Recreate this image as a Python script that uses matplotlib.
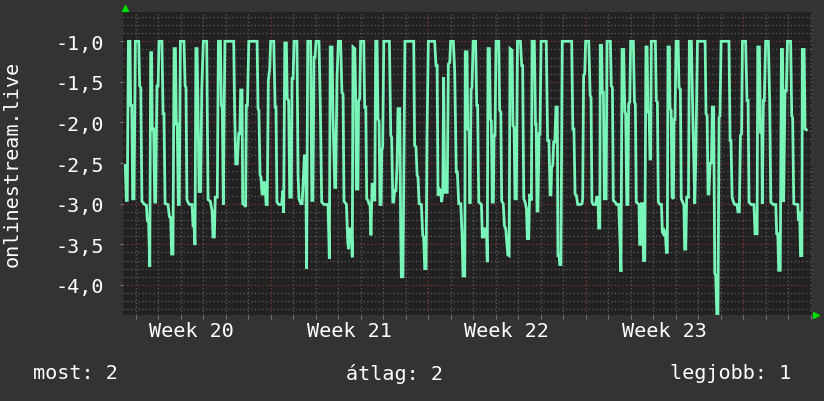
import matplotlib
matplotlib.use("Agg")
import matplotlib.pyplot as plt
import numpy as np
from matplotlib.ticker import FixedLocator, MultipleLocator, FuncFormatter

# ---------------- data (time in days from left edge, value) ----------------
seg_a = [(0.10,-2.53),(0.15,-2.96),(0.19,-2.96),(0.24,-1.0),(0.31,-1.0),(0.34,-1.79),(0.39,-1.79),(0.43,-2.94),(0.49,-2.94),(0.55,-1.0),(0.70,-1.0),(0.74,-1.55),(0.79,-1.57),(0.84,-2.97),(0.96,-3.01),(1.04,-3.02),(1.08,-3.21),(1.14,-3.23),(1.19,-3.78),(1.23,-1.14),(1.27,-1.14),(1.30,-2.08),(1.36,-2.08),(1.41,-2.98),(1.45,-2.98),(1.51,-1.55),(1.56,-1.55),(1.60,-1.0),(1.73,-1.0),(1.78,-1.89),(1.82,-1.89),(1.87,-3.0),(2.00,-3.01),(2.06,-3.16),(2.12,-3.17),(2.16,-3.62),(2.22,-3.62),(2.27,-1.09),(2.33,-1.09),(2.37,-2.02),(2.41,-2.02),(2.46,-3.01),(2.50,-3.01),(2.55,-1.0),(2.71,-1.0),(2.76,-1.55),(2.80,-1.57),(2.84,-2.95),(2.90,-2.99),(2.96,-3.01),(3.07,-3.01),(3.11,-3.27),(3.16,-3.29),(3.20,-3.51),(3.24,-1.09),(3.29,-1.09),(3.33,-1.77),(3.38,-2.85),(3.45,-2.85),(3.50,-1.59),(3.57,-1.0),(3.72,-1.0),(3.78,-2.95),(3.88,-2.97),(3.96,-3.09),(4.00,-3.41),(4.06,-3.41),(4.10,-2.92),(4.19,-2.92),(4.24,-1.0),(4.33,-1.0),(4.37,-1.79),(4.41,-1.79),(4.46,-3.01),(4.49,-2.01),(4.53,-1.0),(4.92,-1.0)]
seg_b = [(4.96,-1.83),(5.01,-2.51),(5.08,-2.51),(5.14,-2.14),(5.19,-2.14),(5.23,-1.60),(5.29,-1.60),(5.32,-3.0),(5.41,-3.02),(5.45,-3.04),(5.48,-1.79),(5.53,-1.79),(5.59,-1.0),(5.96,-1.0),(6.00,-1.83),(6.04,-1.85),(6.09,-2.65),(6.13,-2.67),(6.18,-2.88),(6.22,-2.88),(6.27,-2.74),(6.31,-2.74),(6.36,-3.01),(6.41,-3.01),(6.46,-1.48),(6.52,-1.34),(6.56,-1.0),(6.70,-1.0),(6.76,-1.81),(6.80,-1.81),(6.84,-2.98),(6.92,-3.01),(7.05,-3.01),(7.10,-2.84),(7.14,-3.11),(7.19,-1.02),(7.26,-1.02),(7.30,-1.71),(7.36,-1.73),(7.41,-2.92),(7.48,-2.92),(7.51,-1.46),(7.56,-1.46),(7.60,-1.0),(7.73,-1.0),(7.78,-2.65),(7.82,-2.94),(7.90,-3.0),(7.96,-3.0),(8.00,-2.78),(8.06,-2.41),(8.12,-2.41),(8.16,-3.8),(8.21,-1.0),(8.34,-1.0),(8.39,-2.96),(8.44,-2.96),(8.49,-1.2),(8.53,-1.2),(8.58,-1.0),(8.71,-1.0),(8.77,-1.81),(8.83,-2.98),(8.93,-3.01),(9.11,-3.01),(9.17,-3.68),(9.21,-1.07),(9.29,-1.07),(9.33,-1.89),(9.41,-2.80),(9.45,-2.80),(9.51,-1.46),(9.57,-1.0),(9.67,-1.0),(9.73,-1.63),(9.78,-1.65),(9.82,-2.97),(9.93,-3.01),(9.99,-3.48),(10.03,-3.56),(10.07,-3.31),(10.15,-3.31),(10.19,-3.66)]
seg_c = [(10.22,-1.07),(10.30,-1.09),(10.34,-1.67),(10.37,-2.82),(10.44,-2.82),(10.47,-1.73),(10.52,-1.71),(10.56,-1.0),(10.70,-1.0),(10.74,-1.81),(10.79,-1.81),(10.83,-2.94),(10.89,-2.96),(10.93,-3.0),(10.98,-3.02),(11.02,-3.39),(11.07,-2.76),(11.14,-2.76),(11.19,-2.97),(11.23,-1.0),(11.29,-1.0),(11.33,-1.96),(11.38,-1.98),(11.42,-3.01),(11.47,-3.01),(11.50,-2.33),(11.54,-2.31),(11.59,-1.0),(11.84,-1.0),(11.90,-2.16),(11.94,-2.18),(11.99,-2.98),(12.03,-2.98),(12.07,-2.84),(12.13,-2.84),(12.18,-2.51),(12.22,-1.83),(12.30,-1.83),(12.34,-3.31),(12.37,-3.9),(12.44,-3.9),(12.49,-2.22),(12.53,-1.0),(12.92,-1.0),(12.96,-2.28),(13.02,-2.30),(13.07,-2.65),(13.11,-2.67),(13.16,-3.0),(13.26,-3.01),(13.32,-3.39),(13.36,-3.41),(13.41,-3.80),(13.47,-3.80),(13.51,-2.16),(13.57,-1.0),(13.85,-1.0),(13.91,-1.30),(13.96,-1.30),(14.00,-2.90),(14.06,-2.82),(14.12,-2.84),(14.16,-2.98),(14.21,-2.86),(14.25,-1.44),(14.30,-2.86),(14.41,-2.86),(14.46,-1.28),(14.52,-1.26),(14.56,-1.0),(14.68,-1.0),(14.74,-1.36),(14.81,-2.61),(14.86,-2.61),(14.92,-3.0),(15.01,-3.0),(15.07,-3.39),(15.11,-3.89),(15.19,-3.89)]
seg_d = [(15.21,-1.13),(15.29,-1.13),(15.32,-2.08),(15.38,-2.10),(15.42,-3.0),(15.47,-1.59),(15.51,-1.57),(15.56,-1.0),(15.67,-1.0),(15.72,-1.79),(15.76,-1.79),(15.81,-2.98),(15.93,-3.01),(15.97,-3.41),(16.03,-3.41),(16.07,-3.31),(16.15,-3.31),(16.19,-3.72),(16.22,-1.09),(16.28,-1.09),(16.33,-1.96),(16.37,-1.98),(16.41,-2.98),(16.46,-2.98),(16.49,-2.16),(16.53,-2.16),(16.58,-1.0),(16.70,-1.0),(16.74,-1.85),(16.79,-1.87),(16.83,-2.97),(16.90,-3.0),(16.95,-3.27),(17.01,-3.31),(17.10,-3.63),(17.16,-3.64),(17.20,-1.09),(17.29,-1.11),(17.33,-2.04),(17.38,-2.06),(17.42,-2.94),(17.48,-2.94),(17.53,-1.0),(17.66,-1.0),(17.72,-1.30),(17.76,-1.30),(17.81,-2.94),(17.87,-2.98),(17.93,-3.06),(17.97,-3.43),(18.03,-3.43),(18.07,-2.88),(18.15,-2.96),(18.18,-1.0),(18.28,-1.0),(18.33,-2.02),(18.36,-2.02),(18.40,-3.09),(18.44,-3.09),(18.49,-2.14),(18.53,-2.14),(18.58,-1.0),(18.81,-1.0),(18.87,-2.22),(18.93,-2.22),(18.98,-2.89),(19.02,-2.89),(19.05,-2.55),(19.10,-2.53),(19.14,-2.24),(19.19,-2.24),(19.24,-1.81),(19.30,-1.81),(19.33,-3.64),(19.38,-3.64),(19.41,-3.75),(19.46,-3.75),(19.52,-1.0),(19.94,-1.0),(19.99,-2.08),(20.04,-2.08),(20.09,-2.88),(20.15,-2.90),(20.21,-3.01),(20.33,-3.01)]
seg_e = [(20.40,-3.0),(20.43,-2.94),(20.47,-1.42),(20.52,-1.40),(20.56,-1.0),(20.70,-1.0),(20.76,-1.67),(20.80,-1.69),(20.84,-2.98),(20.90,-3.01),(21.01,-3.01),(21.05,-2.92),(21.11,-2.92),(21.14,-3.30),(21.19,-3.30),(21.21,-1.05),(21.27,-1.05),(21.30,-1.63),(21.35,-1.63),(21.39,-2.94),(21.47,-2.94),(21.51,-1.0),(21.66,-1.0),(21.70,-1.55),(21.75,-1.57),(21.79,-2.96),(21.87,-2.98),(21.93,-3.01),(22.03,-3.01),(22.09,-3.48),(22.13,-3.84),(22.18,-1.1),(22.25,-1.1),(22.30,-1.87),(22.34,-1.89),(22.39,-3.01),(22.44,-3.01),(22.47,-1.77),(22.52,-1.75),(22.56,-1.0),(22.68,-1.0),(22.73,-1.75),(22.77,-1.77),(22.81,-2.98),(22.89,-3.0),(22.93,-3.01),(22.96,-3.50),(23.01,-3.50),(23.04,-3.0),(23.10,-3.0),(23.13,-3.70),(23.19,-3.70),(23.24,-1.07),(23.29,-1.07),(23.33,-1.87),(23.38,-1.87),(23.42,-2.45),(23.45,-2.45),(23.48,-1.0),(23.66,-1.0),(23.70,-1.73),(23.75,-1.75),(23.79,-2.98),(23.87,-3.01),(23.93,-3.01),(23.97,-3.35),(24.01,-3.37),(24.06,-3.33),(24.10,-3.35),(24.15,-3.60),(24.19,-3.60),(24.22,-1.07),(24.28,-1.07),(24.31,-1.83),(24.36,-1.85),(24.40,-2.92),(24.46,-2.94),(24.49,-1.96),(24.53,-1.96),(24.58,-1.0),(24.67,-1.0),(24.71,-1.57),(24.77,-1.59),(24.81,-2.94),(24.87,-2.98),(24.93,-3.02),(24.96,-3.56),(25.01,-3.56),(25.05,-2.92),(25.13,-2.92),(25.17,-1.0),(25.26,-1.0)]
seg_f = [(25.33,-2.02),(25.41,-3.0),(25.45,-2.53),(25.53,-1.0),(25.87,-1.0),(25.91,-1.89),(25.96,-1.92),(26.00,-2.88),(26.04,-2.88),(26.09,-2.49),(26.15,-2.51),(26.19,-1.81),(26.25,-1.81),(26.30,-3.86),(26.34,-3.88),(26.39,-4.36),(26.44,-4.36),(26.49,-1.94),(26.53,-1.92),(26.58,-1.0),(26.93,-1.0),(26.98,-2.22),(27.02,-2.22),(27.07,-2.92),(27.13,-2.98),(27.19,-3.01),(27.29,-3.01),(27.33,-3.10),(27.39,-3.10),(27.44,-2.16),(27.49,-2.14),(27.53,-1.0),(27.67,-1.0),(27.73,-1.73),(27.78,-1.73),(27.82,-2.98),(27.91,-3.01),(28.04,-3.01),(28.09,-3.37),(28.18,-3.37),(28.21,-1.07),(28.28,-1.07),(28.33,-2.12),(28.39,-2.12),(28.41,-3.0),(28.46,-1.73),(28.50,-1.73),(28.56,-1.0),(28.68,-1.0),(28.74,-1.75),(28.79,-2.98),(28.89,-3.01),(29.01,-3.01),(29.05,-3.37),(29.10,-3.37),(29.14,-3.82),(29.21,-3.82),(29.26,-1.10),(29.31,-1.10),(29.36,-2.98),(29.42,-1.61),(29.48,-1.61),(29.53,-1.0),(29.67,-1.0),(29.72,-1.92),(29.76,-1.94),(29.81,-3.0),(29.93,-3.01),(29.99,-3.01),(30.02,-3.21),(30.07,-3.10),(30.11,-3.64),(30.17,-3.64),(30.19,-1.10),(30.27,-1.10),(30.31,-2.08),(30.37,-2.09)]

week_labels = ["Week 20", "Week 21", "Week 22", "Week 23"]
week_starts = [6.56, 13.56, 20.56, 27.56]      # week boundaries (days)
ytick_values = [-4.0, -3.5, -3.0, -2.5, -2.0, -1.5, -1.0]
y_label = "onlinestream.live"
legend_items = ["most: 2", "átlag: 2", "legjobb: 1"]

# ---------------- figure ----------------
W, H = 824, 402
BG = "#333333"
PLOT_BG = "#222222"
LINE = "#7af5b9"
FONT = "DejaVu Sans Mono"
FS = 14.5

fig = plt.figure(figsize=(W / 100, H / 100), dpi=100, facecolor=BG)
L, R, T, B = 123, 812, 13, 316
ax = fig.add_axes([L / W, 1 - B / H, (R - L) / W, (B - T) / H], facecolor=PLOT_BG)

pts = seg_a + seg_b + seg_c + seg_d + seg_e + seg_f
t = np.array([p[0] for p in pts])
v = np.array([p[1] for p in pts])

x_max = 30.62
ax.set_xlim(0, x_max)
ax.set_ylim(-4.371, -0.639)

# grids
ax.yaxis.set_major_locator(FixedLocator(ytick_values))
ax.yaxis.set_minor_locator(MultipleLocator(0.1))
ax.yaxis.set_major_formatter(FuncFormatter(lambda y, p: f"{y:.1f}".replace(".", ",")))
ax.xaxis.set_major_locator(FixedLocator(week_starts))
day_lines = [d for d in np.arange(week_starts[0] - 7, x_max, 1.0) if d > 0]
ax.xaxis.set_minor_locator(FixedLocator(day_lines))
ax.xaxis.set_major_formatter(FuncFormatter(lambda x, p: ""))

ax.grid(which="minor", color="#5c5c5c", linestyle=(0, (1, 2)), linewidth=0.9)
ax.grid(which="major", color="#8a3434", linestyle=(0, (1, 2)), linewidth=0.9)
ax.set_axisbelow(True)

ax.tick_params(axis="both", which="both", colors="#777777", length=3, width=0.8)
ax.tick_params(axis="y", which="minor", length=0)
ax.tick_params(axis="y", which="major", labelcolor="white", labelsize=FS, pad=12, length=2)
ax.tick_params(axis="x", which="both", length=3)
for lab in ax.get_yticklabels():
    lab.set_fontfamily(FONT)
for s in ax.spines.values():
    s.set_visible(False)

ax.plot(t, v, color=LINE, linewidth=2.0, solid_joinstyle="miter", zorder=3)

# week labels at week middles
xt = ax.get_xaxis_transform()
for i, lab in enumerate(week_labels):
    mid = week_starts[i] - 3.5
    ax.text(mid, -0.05, lab, transform=xt, ha="center", va="center",
            color="white", fontsize=FS, family=FONT)

# axis arrows
ax.plot([0.003], [1.013], marker="^", color="#00dd00", markersize=5,
        transform=ax.transAxes, clip_on=False, zorder=5)
ax.plot([1.006], [0.0], marker=">", color="#00dd00", markersize=5,
        transform=ax.transAxes, clip_on=False, zorder=5)

# y label
fig.text(12 / W, 1 - 164 / H, y_label, rotation=90, ha="center", va="center",
         color="white", fontsize=FS, family=FONT)

# legend line
ly = 1 - 374 / H
fig.text(33 / W, ly, legend_items[0], ha="left", va="center", color="white", fontsize=FS, family=FONT)
fig.text(394 / W, ly, legend_items[1], ha="center", va="center", color="white", fontsize=FS, family=FONT)
fig.text(791 / W, ly, legend_items[2], ha="right", va="center", color="white", fontsize=FS, family=FONT)

fig.savefig("out.png", dpi=100, facecolor=BG)
